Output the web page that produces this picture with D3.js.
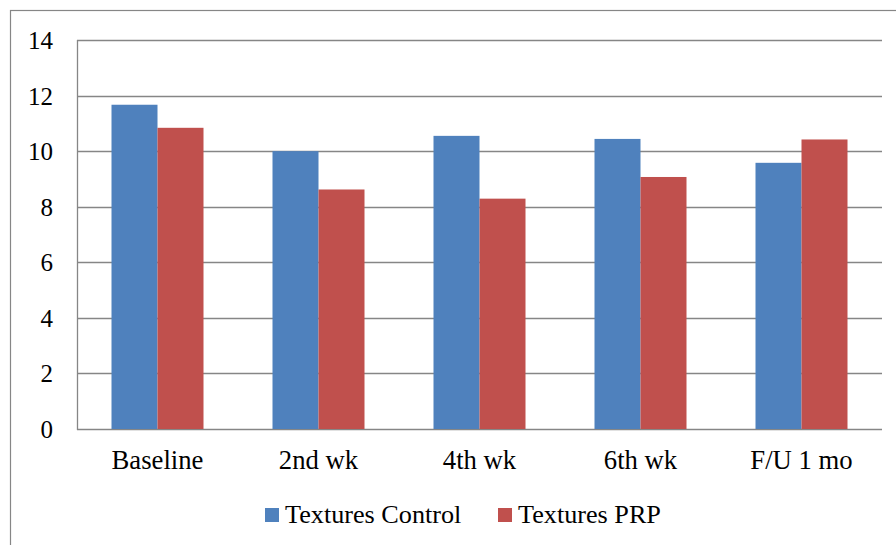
<!DOCTYPE html>
<html>
<head>
<meta charset="utf-8">
<script src="https://cdn.jsdelivr.net/npm/d3@7"></script>
<style>
  html, body { margin: 0; padding: 0; background: #fff; }
  svg { display: block; font-family: "Liberation Serif", "Times New Roman", serif; }
</style>
</head>
<body>
<svg id="chart" width="896" height="545"></svg>
<script>
// Category labels, series and values
const categories = ["Baseline", "2nd wk", "4th wk", "6th wk", "F/U 1 mo"];
const seriesNames = ["Textures Control", "Textures PRP"];
const controlValues = [11.67, 10.0, 10.55, 10.44, 9.58];
const prpValues = [10.84, 8.62, 8.29, 9.07, 10.42];
const yTicks = [0, 2, 4, 6, 8, 10, 12, 14];
const seriesColors = ["#4F81BD", "#C0504D"];

const svg = d3.select("#chart");
const W = 896, H = 545;

// outer chart frame
svg.append("rect")
  .attr("x", 10.5).attr("y", 10.5)
  .attr("width", W + 10).attr("height", H + 10)
  .attr("fill", "#fff").attr("stroke", "#868686").attr("stroke-width", 1.2);

const plot = { left: 77, right: 882, top: 40, bottom: 429 };

const x0 = d3.scaleBand().domain(categories).range([plot.left, plot.right]).paddingInner(0).paddingOuter(0);
const y = d3.scaleLinear().domain([0, 14]).range([plot.bottom, plot.top]);

// bar width: two bars per group with a 150% gap
const barW = x0.bandwidth() / 3.5;
const x1 = d3.scaleBand().domain(seriesNames).range([0, barW * 2]);

// horizontal gridlines
svg.append("g").selectAll("line").data(yTicks).join("line")
  .attr("x1", plot.left).attr("x2", plot.right)
  .attr("y1", d => Math.round(y(d)) + 0.5).attr("y2", d => Math.round(y(d)) + 0.5)
  .attr("stroke", "#868686").attr("stroke-width", 1.3);

// left axis line
svg.append("line")
  .attr("x1", plot.left + 0.5).attr("x2", plot.left + 0.5)
  .attr("y1", plot.top).attr("y2", plot.bottom + 1)
  .attr("stroke", "#868686").attr("stroke-width", 1.3);

// y tick labels
svg.append("g").selectAll("text").data(yTicks).join("text")
  .attr("x", 53).attr("y", d => y(d) + 9)
  .attr("text-anchor", "end")
  .attr("font-size", 25).attr("fill", "#000")
  .text(d => d);

// bars
const rows = categories.map((c, i) => ({ cat: c, vals: [controlValues[i], prpValues[i]] }));
const groups = svg.append("g").selectAll("g").data(rows).join("g")
  .attr("transform", d => `translate(${x0(d.cat) + (x0.bandwidth() - barW * 2) / 2},0)`);
groups.selectAll("rect").data(d => d.vals.map((v, j) => ({ v, s: seriesNames[j], j })))
  .join("rect")
  .attr("x", d => x1(d.s))
  .attr("y", d => y(d.v))
  .attr("width", x1.bandwidth())
  .attr("height", d => y(0) - y(d.v))
  .attr("fill", d => seriesColors[d.j]);

// category labels
svg.append("g").selectAll("text").data(categories).join("text")
  .attr("x", d => x0(d) + x0.bandwidth() / 2)
  .attr("y", 469)
  .attr("text-anchor", "middle")
  .attr("font-size", 26.7).attr("fill", "#000")
  .text(d => d);

// legend
const legendX = [265, 498];
const legend = svg.append("g").selectAll("g").data(seriesNames).join("g")
  .attr("transform", (d, i) => `translate(${legendX[i]},0)`);
legend.append("rect")
  .attr("x", 0).attr("y", 508).attr("width", 14).attr("height", 14)
  .attr("fill", (d, i) => seriesColors[i]);
legend.append("text")
  .attr("x", 20).attr("y", 523)
  .attr("font-size", 26.2).attr("fill", "#000")
  .text(d => d);
</script>
</body>
</html>
